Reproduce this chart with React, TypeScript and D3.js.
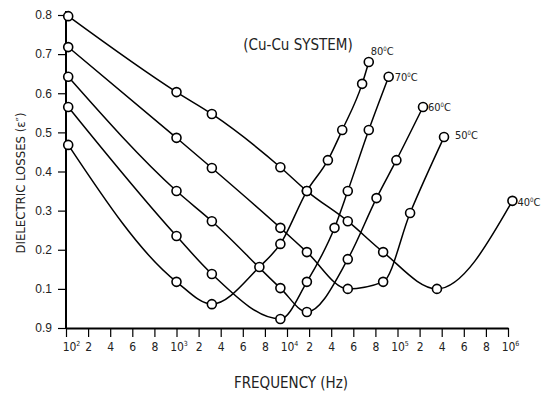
import React, { useRef, useEffect } from 'react';
import * as d3 from 'd3';

// x axis ticks (Hz), drawn evenly spaced like the original hand-drawn axis
const xTickValues = [1e2, 2e2, 4e2, 6e2, 8e2, 1e3, 2e3, 4e3, 6e3, 8e3, 1e4, 2e4, 4e4, 6e4, 8e4, 1e5, 2e5, 4e5, 6e5, 8e5, 1e6];
const xTickLabels = ['10^2', '2', '4', '6', '8', '10^3', '2', '4', '6', '8', '10^4', '2', '4', '6', '8', '10^5', '2', '4', '6', '8', '10^6'];

const yTickValues = [0, 0.1, 0.2, 0.3, 0.4, 0.5, 0.6, 0.7, 0.8];
const yTickLabels = ['0.9', '0.1', '0.2', '0.3', '0.4', '0.5', '0.6', '0.7', '0.8'];

const temps = ['40', '50', '60', '70', '80'];

const freq40 = [110, 1000, 3200, 9400, 1.9e4, 5.5e4, 8.7e4, 3.57e5, 1.04e6];
const loss40 = [0.797, 0.603, 0.547, 0.411, 0.35, 0.273, 0.194, 0.1, 0.325];

const freq50 = [110, 1000, 3200, 9400, 1.9e4, 5.5e4, 8.7e4, 1.57e5, 4.21e5];
const loss50 = [0.718, 0.486, 0.409, 0.256, 0.194, 0.1, 0.118, 0.294, 0.488];

const freq60 = [110, 1000, 3200, 9400, 1.9e4, 5.5e4, 8.1e4, 9.9e4, 2.31e5];
const loss60 = [0.642, 0.35, 0.273, 0.102, 0.041, 0.176, 0.332, 0.429, 0.565];

const freq70 = [110, 1000, 3200, 9400, 1.9e4, 4.3e4, 5.5e4, 7.4e4, 9.2e4];
const loss70 = [0.565, 0.235, 0.138, 0.023, 0.118, 0.256, 0.35, 0.506, 0.642];

const freq80 = [110, 1000, 3200, 7500, 9400, 1.9e4, 3.7e4, 5.0e4, 6.8e4, 7.4e4];
const loss80 = [0.468, 0.118, 0.061, 0.156, 0.215, 0.35, 0.429, 0.506, 0.624, 0.68];

const freqs = [freq40, freq50, freq60, freq70, freq80];
const losses = [loss40, loss50, loss60, loss70, loss80];

// where each temperature label sits relative to the last point
const labelOffsets = [[5, 1], [11, -2], [5, 0], [6, 0], [2, -11]];

const W = 542;
const H = 393;
const margin = { top: 15, right: 34, bottom: 65, left: 66 };
const narrow = "'Liberation Sans Narrow', 'DejaVu Sans Condensed', sans-serif";
const regular = "'Liberation Sans', Arial, sans-serif";

export default function App() {
  const svgRef = useRef<SVGSVGElement>(null);

  useEffect(() => {
    const svg = d3.select(svgRef.current);
    svg.selectAll('*').remove();

    const x0 = margin.left;
    const x1 = W - margin.right;
    const step = (x1 - x0) / (xTickValues.length - 1);
    const x = d3.scaleLinear()
      .domain(xTickValues)
      .range(xTickValues.map((_, i) => x0 + i * step));
    const y = d3.scaleLinear()
      .domain([0, 0.8])
      .range([H - margin.bottom, margin.top]);

    // axes
    const gx = svg.append('g')
      .attr('transform', `translate(0,${y(0)})`)
      .call(d3.axisBottom(x).tickValues(xTickValues).tickSize(9).tickSizeOuter(0).tickPadding(5).tickFormat(() => ''));
    gx.select('.domain').attr('stroke-width', 2);
    gx.selectAll('.tick line').attr('stroke-width', 1.2);
    gx.selectAll<SVGTextElement, number>('.tick text').each(function (_, i) {
      const t = d3.select(this)
        .attr('font-family', narrow)
        .attr('font-size', 12)
        .attr('fill', '#222');
      const [base, sup] = xTickLabels[i].split('^');
      t.append('tspan').text(base);
      if (sup) {
        t.attr('dx', i === 0 ? 5 : 2);
        t.append('tspan').attr('dy', -5).attr('font-size', 7).text(sup);
      }
    });

    const gy = svg.append('g')
      .attr('transform', `translate(${x0},0)`)
      .call(d3.axisLeft(y).tickValues(yTickValues).tickSize(8).tickSizeOuter(0).tickPadding(6)
        .tickFormat((_, i) => yTickLabels[i]));
    gy.select('.domain').attr('stroke-width', 2).attr('d', `M0,${y(0)}V${margin.top - 4}`);
    gy.selectAll('.tick line').attr('stroke-width', 1.2);
    gy.selectAll('.tick text').attr('font-family', regular).attr('font-size', 12).attr('fill', '#222');

    // curves
    const line = d3.line<[number, number]>()
      .x(d => x(d[0]))
      .y(d => y(d[1]))
      .curve(d3.curveMonotoneX);

    const series = temps.map((t, k) => ({
      temp: t,
      pts: freqs[k].map((f, i) => [f, losses[k][i]] as [number, number]),
    }));

    svg.append('g')
      .selectAll('path')
      .data(series)
      .enter().append('path')
      .attr('d', d => line(d.pts))
      .attr('fill', 'none')
      .attr('stroke', '#000')
      .attr('stroke-width', 1.5);

    svg.append('g')
      .selectAll('g')
      .data(series)
      .enter().append('g')
      .selectAll('circle')
      .data(d => d.pts)
      .enter().append('circle')
      .attr('cx', d => x(d[0]))
      .attr('cy', d => y(d[1]))
      .attr('r', 4.5)
      .attr('fill', '#fff')
      .attr('stroke', '#000')
      .attr('stroke-width', 1.6);

    // temperature labels
    series.forEach((s, k) => {
      const last = s.pts[s.pts.length - 1];
      const t = svg.append('text')
        .attr('x', x(last[0]) + labelOffsets[k][0])
        .attr('y', y(last[1]) + labelOffsets[k][1])
        .attr('dy', '0.35em')
        .attr('font-family', narrow)
        .attr('font-size', 11)
        .attr('fill', '#222');
      t.append('tspan').text(s.temp);
      t.append('tspan').attr('dy', -4).attr('font-size', 6).text('0');
      t.append('tspan').attr('dy', 4).text('C');
    });

    // titles
    svg.append('text')
      .attr('x', 298)
      .attr('y', 45)
      .attr('dy', '0.35em')
      .attr('text-anchor', 'middle')
      .attr('font-family', narrow)
      .attr('font-size', 15)
      .attr('fill', '#222')
      .text('(Cu-Cu SYSTEM)');

    svg.append('text')
      .attr('x', 291)
      .attr('y', 383)
      .attr('dy', '0.35em')
      .attr('text-anchor', 'middle')
      .attr('font-family', narrow)
      .attr('font-size', 15)
      .attr('fill', '#222')
      .text('FREQUENCY (Hz)');

    svg.append('text')
      .attr('transform', 'translate(20,183) rotate(-90)')
      .attr('dy', '0.35em')
      .attr('text-anchor', 'middle')
      .attr('font-family', narrow)
      .attr('font-size', 13)
      .attr('fill', '#222')
      .text('DIELECTRIC LOSSES (\u03b5\u2033)');
  }, []);

  return (
    <svg
      ref={svgRef}
      width={W}
      height={H}
      style={{ position: 'absolute', left: 0, top: 0, background: '#fff' }}
    />
  );
}
